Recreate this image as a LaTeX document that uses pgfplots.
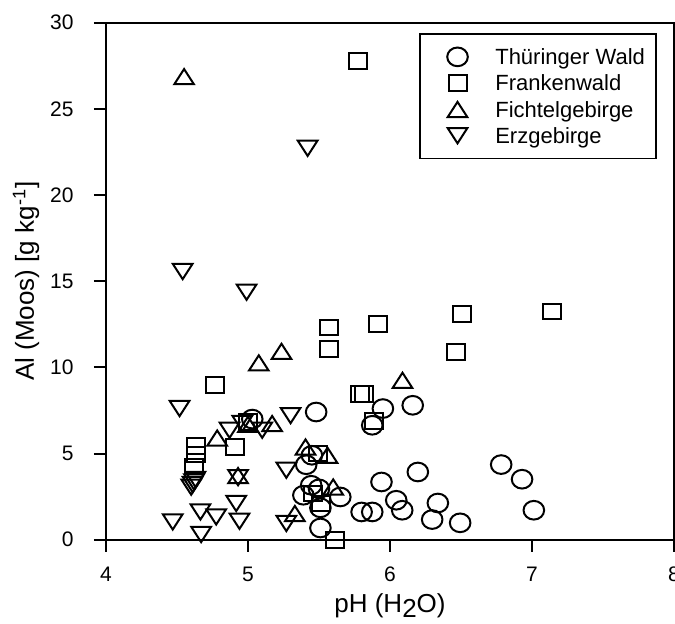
\documentclass[border=0pt]{standalone}
\usepackage{fontspec}
\setmainfont{Liberation Sans}
\usepackage{pgfplots}
\pgfplotsset{compat=1.18}

\pgfdeclareplotmark{ocirc}{\pgfpathellipse{\pgfpointorigin}{\pgfqpoint{5.15pt}{0pt}}{\pgfqpoint{0pt}{4.67pt}}\pgfusepathqstroke}
\pgfdeclareplotmark{osq}{\pgfpathrectanglecorners{\pgfqpoint{-4.5pt}{-3.93pt}}{\pgfqpoint{4.5pt}{3.93pt}}\pgfusepathqstroke}
\pgfdeclareplotmark{utri}{\pgfpathmoveto{\pgfqpoint{0pt}{3.8pt}}\pgfpathlineto{\pgfqpoint{4.9pt}{-3.8pt}}\pgfpathlineto{\pgfqpoint{-4.9pt}{-3.8pt}}\pgfpathclose\pgfusepathqstroke}
\pgfdeclareplotmark{dtri}{\pgfpathmoveto{\pgfqpoint{0pt}{-3.8pt}}\pgfpathlineto{\pgfqpoint{4.9pt}{3.8pt}}\pgfpathlineto{\pgfqpoint{-4.9pt}{3.8pt}}\pgfpathclose\pgfusepathqstroke}

\pgfplotsset{
  myleg/.style={legend image code/.code={\path (-13pt,0pt) (18.5pt,0pt); \draw[##1] plot coordinates {(0pt,0pt)};}},
  mymark/.style={only marks, mark=#1, black, mark options={line width=1pt, solid, black}, myleg}
}

\begin{document}
\begin{tikzpicture}
\begin{axis}[
  name=ax,
  scale only axis, width=284pt, height=258.5pt,
  xmin=4, xmax=8, ymin=0, ymax=30,
  xtick={4,5,6,7,8}, ytick={0,5,10,15,20,25,30},
  tick align=outside, xtick pos=bottom, ytick pos=left,
  major tick length=6pt,
  axis line style={line width=1pt},
  every tick/.style={line width=1pt, black},
  tick label style={font=\fontsize{10.5}{12}\selectfont},
  /pgf/number format/assume math mode=true,
  yticklabel style={anchor=east, inner sep=0pt, xshift=-10pt},
  xticklabel style={anchor=north, inner sep=0pt, yshift=-7.5pt},
  clip=false,
  xlabel={pH (H\raisebox{-2.3pt}{2}O)},
  ylabel={Al (Moos) [g kg\textsuperscript{-1}]},
  xlabel style={at={(axis description cs:0.5,-0.141)}, anchor=base, font=\fontsize{13}{15}\selectfont},
  ylabel style={at={(axis description cs:-0.1268,0.5)}, anchor=base, rotate=0, font=\fontsize{13}{15}\selectfont},
  legend cell align=left,
  legend style={at={(1,1)}, anchor=north east, xshift=-8.65pt, yshift=-5.3pt,
    draw=black, line width=0.8pt, inner xsep=5.5pt, inner ysep=4.8pt,
    font=\fontsize{11}{13}\selectfont, row sep=0pt,
    cells={anchor=west},
    nodes={inner sep=0pt, text height=10.475pt, text depth=2.675pt}},
]
\addplot[mymark=ocirc] coordinates {
(5.03,7.0) (5.48,7.41) (5.95,7.61) (6.16,7.8) (5.875,6.64) (5.45,4.9) (5.41,4.35)
(5.445,3.16) (5.50,2.95) (5.39,2.58) (5.65,2.48) (5.51,1.85) (5.51,0.68) (5.80,1.61)
(5.875,1.61) (5.94,3.35) (6.196,3.93) (6.044,2.29) (6.086,1.71) (6.337,2.13)
(6.297,1.17) (6.494,0.98) (6.783,4.36) (6.93,3.51) (7.013,1.71)
};
\addlegendentry{Thüringer Wald}
\addplot[mymark=osq] coordinates {
(5.776,27.78) (5.57,12.31) (5.57,11.07) (5.917,12.52) (6.506,13.1) (7.14,13.25)
(6.466,10.88) (4.766,8.98) (5.79,8.44) (5.82,8.44) (4.635,5.42) (4.635,4.95)
(4.62,4.24) (4.905,5.38) (5.0,6.83) (5.884,6.89) (5.49,5.0) (5.46,2.68) (5.515,2.1)
(5.616,0.0)
};
\addlegendentry{Frankenwald}
\addplot[mymark=utri] coordinates {
(4.55,26.87) (5.236,10.93) (5.076,10.26) (6.088,9.25) (4.783,5.9) (4.93,3.72)
(5.17,6.74) (5.0,6.7) (5.405,5.38) (5.56,4.9) (5.60,3.06) (5.33,1.52)
};
\addlegendentry{Fichtelgebirge}
\addplot[mymark=dtri] coordinates {
(5.42,22.71) (4.54,15.56) (4.99,14.36) (4.518,7.61) (4.87,6.35) (4.96,6.74)
(5.10,6.35) (5.30,7.2) (4.60,3.05) (4.61,3.2) (4.62,3.35) (4.63,3.5) (4.93,3.6)
(4.917,2.1) (4.47,1.03) (4.665,1.61) (4.776,1.32) (4.67,0.3) (4.94,1.07)
(5.27,4.03) (5.27,0.94)
};
\addlegendentry{Erzgebirge}
\end{axis}
\pgfresetboundingbox
\path[use as bounding box] ([xshift=-53pt,yshift=-41.75pt]ax.south west) rectangle ([xshift=0.5pt,yshift=11.35pt]ax.north east);
\end{tikzpicture}
\end{document}
